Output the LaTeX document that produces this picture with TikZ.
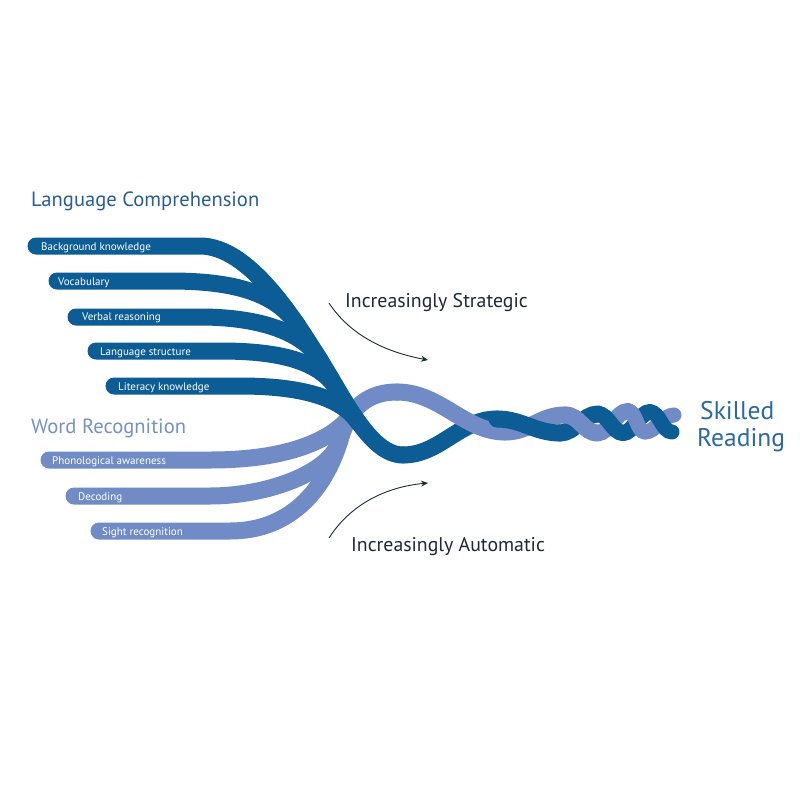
\documentclass[tikz,border=0pt]{standalone}
\usepackage{fontspec}
\setmainfont{PT Sans}
\usetikzlibrary{arrows.meta}

\definecolor{ropedark}{RGB}{12,92,150}
\definecolor{ropelight}{RGB}{112,139,198}
\definecolor{headdark}{RGB}{40,94,146}
\definecolor{headlight}{RGB}{118,146,196}
\definecolor{goalblue}{RGB}{43,105,160}
\definecolor{navy}{RGB}{30,40,55}

\tikzset{
  darkstrand/.style={draw=ropedark, line width=17pt, line cap=round},
  lightstrand/.style={draw=ropelight, line width=17pt, line cap=round},
  strandlabel/.style={anchor=base west, inner sep=0pt, text=white, font=\fontsize{11}{12}\selectfont},
  headline/.style={anchor=base west, inner sep=0pt, font=\fontsize{20.6}{22}\selectfont},
  trendlabel/.style={anchor=base west, inner sep=0pt, text=navy, font=\fontsize{19.8}{22}\selectfont},
  goallabel/.style={anchor=base west, inner sep=0pt, text=goalblue, font=\fontsize{25.5}{27}\selectfont},
  trendarrow/.style={draw=navy, line width=0.9pt, -{Stealth[length=7pt,width=6pt]}}
}

\begin{document}
\begin{tikzpicture}[x=1pt, y=-1pt]
  \fill[white] (0,0) rectangle (800,800);
  \useasboundingbox (0,0) rectangle (800,800);

  % word recognition strands (under the dark band)
  \draw[lightstrand] (99,531) -- (230,531) .. controls (290,531) and (325,490) .. (340,440)
    .. controls (350,405) and (370,392) .. (397,392);
  \draw[lightstrand] (74,496) -- (210,496) .. controls (265,496) and (330,474) .. (340,440);
  \draw[lightstrand] (49,460) -- (210,460) .. controls (290,460) and (334,439) .. (352,414);

  % ascending parts of the twist
  \draw[darkstrand] (403,455) .. controls (440,455) and (460,419) .. (497,419);
  \draw[lightstrand] (505,432) .. controls (530,432) and (540,415) .. (565,415);
  \draw[darkstrand] (560,433) .. controls (575,433) and (583,414) .. (598,414);
  \draw[lightstrand, line width=16pt] (598,433) .. controls (610,433) and (616,411) .. (628,411);
  \draw[darkstrand, line width=16pt] (623,433) .. controls (633,433) and (640,412) .. (650,412);
  \draw[lightstrand, line width=15pt] (645,432) .. controls (656,432) and (663,415) .. (674,415);

  % language comprehension strands
  \draw[darkstrand] (36,246) -- (200,246) .. controls (250,246) and (296,322) .. (320,360)
    .. controls (344,398) and (370,455) .. (403,455);
  \draw[darkstrand] (57,281) -- (170,281) .. controls (235,281) and (276,293) .. (298,326);
  \draw[darkstrand] (76,317) -- (200,317) .. controls (255,317) and (302,330) .. (320,360);
  \draw[darkstrand] (96,351) -- (220,351) .. controls (280,351) and (321,361) .. (338,391);
  \draw[darkstrand] (114,386) -- (240,386) .. controls (300,386) and (341,397) .. (358,422);

  % descending parts of the twist
  \draw[lightstrand] (397,392) .. controls (440,392) and (465,432) .. (505,432);
  \draw[darkstrand] (497,419) .. controls (522,419) and (535,433) .. (560,433);
  \draw[lightstrand] (565,415) .. controls (580,415) and (583,433) .. (598,433);
  \draw[darkstrand, line width=16pt] (598,414) .. controls (608,414) and (613,433) .. (623,433);
  \draw[lightstrand, line width=15pt] (628,411) .. controls (636,411) and (637,432) .. (645,432);
  \draw[darkstrand, line width=15pt] (650,412) .. controls (660,412) and (662,432) .. (672,432);

  % strand labels
  \node[strandlabel] (bk) at (41,250.5) {Background knowledge};
  \node[strandlabel] (voc) at (58,285) {Vocabulary};
  \node[strandlabel] (vr) at (82,320.5) {Verbal reasoning};
  \node[strandlabel] (ls) at (100,355.5) {Language structure};
  \node[strandlabel] (lk) at (118,390.5) {Literacy knowledge};
  \node[strandlabel] (pa) at (52,464) {Phonological awareness};
  \node[strandlabel] (dec) at (78,500) {Decoding};
  \node[strandlabel] (sr) at (102,535) {Sight recognition};

  % group headings
  \node[headline, text=headdark] (lc) at (31,206.5) {Language Comprehension};
  \node[headline, text=headlight] (wr) at (31,433) {Word Recognition};

  % trends
  \node[trendlabel] (strat) at (345,307) {Increasingly Strategic};
  \node[trendlabel] (auto) at (351,551) {Increasingly Automatic};
  \coordinate (stratfrom) at (329,303);
  \coordinate (stratto) at (428,360);
  \coordinate (autofrom) at (329,538);
  \coordinate (autoto) at (428,483);
  \draw[trendarrow] (stratfrom) .. controls (350,335) and (385,352) .. (stratto);
  \draw[trendarrow] (autofrom) .. controls (350,505) and (385,487) .. (autoto);

  % outcome
  \node[goallabel] (sk) at (700,419) {Skilled};
  \node[goallabel] (rd) at (697,446) {Reading};
\end{tikzpicture}
\end{document}
